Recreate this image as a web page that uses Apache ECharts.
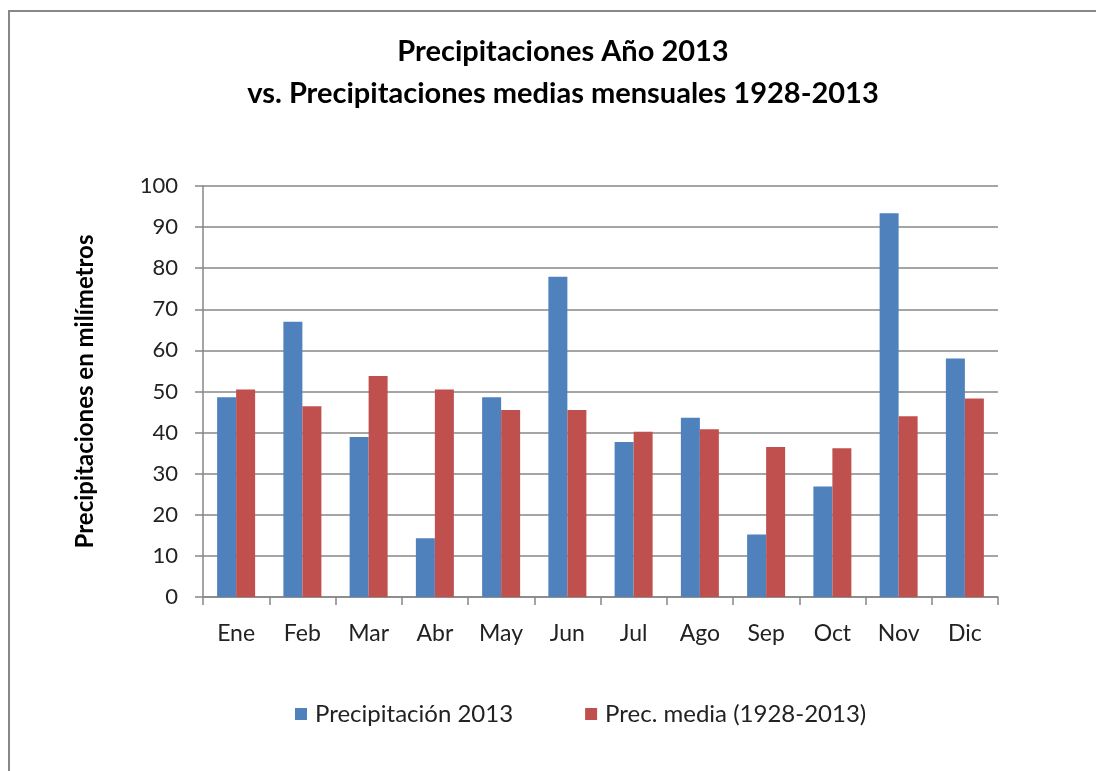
<!DOCTYPE html>
<html>
<head>
<meta charset="utf-8">
<script src="https://cdn.jsdelivr.net/npm/echarts@6/dist/echarts.min.js"></script>
<style>
  html, body { margin: 0; padding: 0; background: #fff; }
  #chart { width: 1096px; height: 771px; }
</style>
</head>
<body>
<div id="chart"></div>
<script>
// datos
const meses = ['Ene', 'Feb', 'Mar', 'Abr', 'May', 'Jun', 'Jul', 'Ago', 'Sep', 'Oct', 'Nov', 'Dic']
const precip2013 = [48.6, 67.0, 38.9, 14.3, 48.6, 77.9, 37.7, 43.6, 15.2, 26.9, 93.4, 58.0]
const precMedia = [50.5, 46.4, 53.8, 50.5, 45.5, 45.5, 40.2, 40.8, 36.5, 36.2, 44.0, 48.3]
const yTicks = [0, 10, 20, 30, 40, 50, 60, 70, 80, 90, 100]

const font = 'Lato, "Open Sans", sans-serif'
const gris = '#878787'

const chart = echarts.init(document.getElementById('chart'))

const option = {
  backgroundColor: '#fff',
  textStyle: { fontFamily: font },
  graphic: [
    {
      type: 'rect',
      shape: { x: 9, y: 11, width: 1300, height: 1000 },
      style: { fill: 'none', stroke: gris, lineWidth: 2 },
      silent: true
    }
  ],
  title: {
    text: 'Precipitaciones Año 2013\nvs. Precipitaciones medias mensuales 1928-2013',
    left: 558,
    top: 26,
    textAlign: 'center',
    textStyle: {
      fontFamily: font,
      fontSize: 29,
      fontWeight: 'bold',
      color: '#000',
      lineHeight: 42
    }
  },
  legend: {
    data: ['Precipitación 2013', 'Prec. media (1928-2013)'],
    left: 290,
    top: 697,
    itemWidth: 12,
    itemHeight: 12,
    itemGap: 72,
    icon: 'rect',
    textStyle: { fontFamily: font, fontSize: 24, color: '#222', padding: [0, 0, 0, 3] }
  },
  grid: {
    left: 203,
    right: 98,
    top: 186,
    bottom: 174
  },
  xAxis: {
    type: 'category',
    data: meses,
    axisLine: { lineStyle: { color: gris, width: 1.5 } },
    axisTick: { show: true, length: 8, alignWithLabel: false, lineStyle: { color: gris, width: 1.5 } },
    axisLabel: { fontFamily: font, fontSize: 23, color: '#222', margin: 25 }
  },
  yAxis: {
    type: 'value',
    min: yTicks[0],
    max: yTicks[yTicks.length - 1],
    interval: yTicks[1] - yTicks[0],
    name: 'Precipitaciones en milímetros',
    nameLocation: 'middle',
    nameRotate: 90,
    nameGap: 106,
    nameTextStyle: { fontFamily: font, fontSize: 24, fontWeight: 'bold', color: '#000' },
    axisLine: { show: true, lineStyle: { color: gris, width: 1.5 } },
    axisTick: { show: true, length: 8, lineStyle: { color: gris, width: 1.5 } },
    axisLabel: { fontFamily: font, fontSize: 22, color: '#222', margin: 25 },
    splitLine: { show: true, lineStyle: { color: gris, width: 1.5 } }
  },
  series: [
    {
      name: 'Precipitación 2013',
      type: 'bar',
      data: precip2013,
      barWidth: 19,
      barGap: '0%',
      itemStyle: { color: '#4F81BD' }
    },
    {
      name: 'Prec. media (1928-2013)',
      type: 'bar',
      data: precMedia,
      barWidth: 19,
      itemStyle: { color: '#C0504D' }
    }
  ]
}

chart.setOption(option)
</script>
</body>
</html>
